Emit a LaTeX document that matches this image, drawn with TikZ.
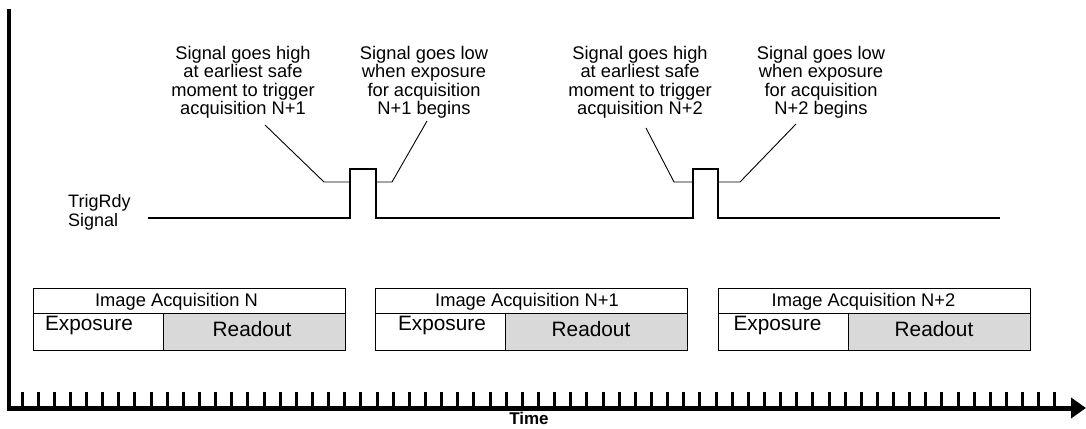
\documentclass[tikz,border=0pt]{standalone}
\usepackage{fontspec}
\setmainfont{Liberation Sans}
\usetikzlibrary{arrows.meta}

\tikzset{
  note/.style={anchor=north, align=center, inner sep=0pt, font=\fontsize{18.3}{18.3}\selectfont},
  leader/.style={line width=0.9pt},
  wave/.style={line width=2.8pt, line join=miter},
  framebox/.style={draw, line width=1.1pt, inner sep=0pt, anchor=north west},
  celltext/.style={anchor=base, inner sep=0pt, font=\fontsize{20.8}{22}\selectfont},
  titletext/.style={anchor=base, inner sep=0pt, font=\fontsize{18.3}{18.3}\selectfont},
}

\begin{document}
\begin{tikzpicture}[x=1pt,y=-1pt]
\useasboundingbox (0,0) rectangle (1086,428);

% Axes and time ticks
\draw[line width=3.3pt] (9,9) -- (9,410.5);
\draw[line width=5pt, -{Triangle[length=15pt,width=20pt]}] (7.35,408) -- (1086,408);
\foreach \k in {0,...,64}
  \draw[line width=3pt] ({22+16.14*\k},392) -- ++(0,16);
\node[anchor=base, inner sep=0pt, font=\bfseries\fontsize{17}{17}\selectfont] (time) at (529,424.5) {Time};

% TrigRdy signal
\node[anchor=north west, align=left, inner sep=0pt, font=\fontsize{18}{19}\selectfont] (trig) at (68,194) {TrigRdy\\Signal};
\coordinate (start) at (148,218);
\coordinate (end) at (1000,218);
\draw[wave] (start) -- (350,218) -- (350,169) -- (376,169) -- (376,218)
  -- (693,218) -- (693,169) -- (718,169) -- (718,218) -- (end);

% Notes and leaders
\node[note] (highA) at (243,46) {Signal goes high\\at earliest safe\\moment to trigger\\acquisition N+1};
\node[note] (lowA) at (424,46) {Signal goes low\\when exposure\\for acquisition\\N+1 begins};
\node[note] (highB) at (640,46) {Signal goes high\\at earliest safe\\moment to trigger\\acquisition N+2};
\node[note] (lowB) at (821,46) {Signal goes low\\when exposure\\for acquisition\\N+2 begins};

\coordinate (riseA) at (350,182);
\coordinate (fallA) at (376,182);
\coordinate (riseB) at (693,182);
\coordinate (fallB) at (718,182);
\coordinate (tipHA) at (265,125);
\coordinate (tipLA) at (427,121);
\coordinate (tipHB) at (646,128);
\coordinate (tipLB) at (796,124);
\draw[leader] (tipHA) -- (324,182) -- (riseA);
\draw[leader] (fallA) -- (392,182) -- (tipLA);
\draw[leader] (tipHB) -- (674,182) -- (riseB);
\draw[leader] (fallB) -- (740,182) -- (tipLB);

% Image acquisition boxes
\foreach \x/\n/\tx/\ex/\rx [count=\i] in {33/N/176.5/89/252, 375/N+1/527/442/591, 718/N+2/863.5/777.5/934} {
  \node[framebox, minimum width=312pt, minimum height=25pt] (acq\i) at (\x,288) {};
  \node[framebox, minimum width=130pt, minimum height=37pt] (exp\i) at (\x,313) {};
  \node[framebox, fill=gray!30, minimum width=182pt, minimum height=37pt] (read\i) at ({\x+130},313) {};
  \node[titletext] (acqt\i) at (\tx,306) {Image Acquisition \n};
  \node[celltext] (expt\i) at (\ex,330) {Exposure};
  \node[celltext] (readt\i) at (\rx,336) {Readout};
}
\end{tikzpicture}
\end{document}
